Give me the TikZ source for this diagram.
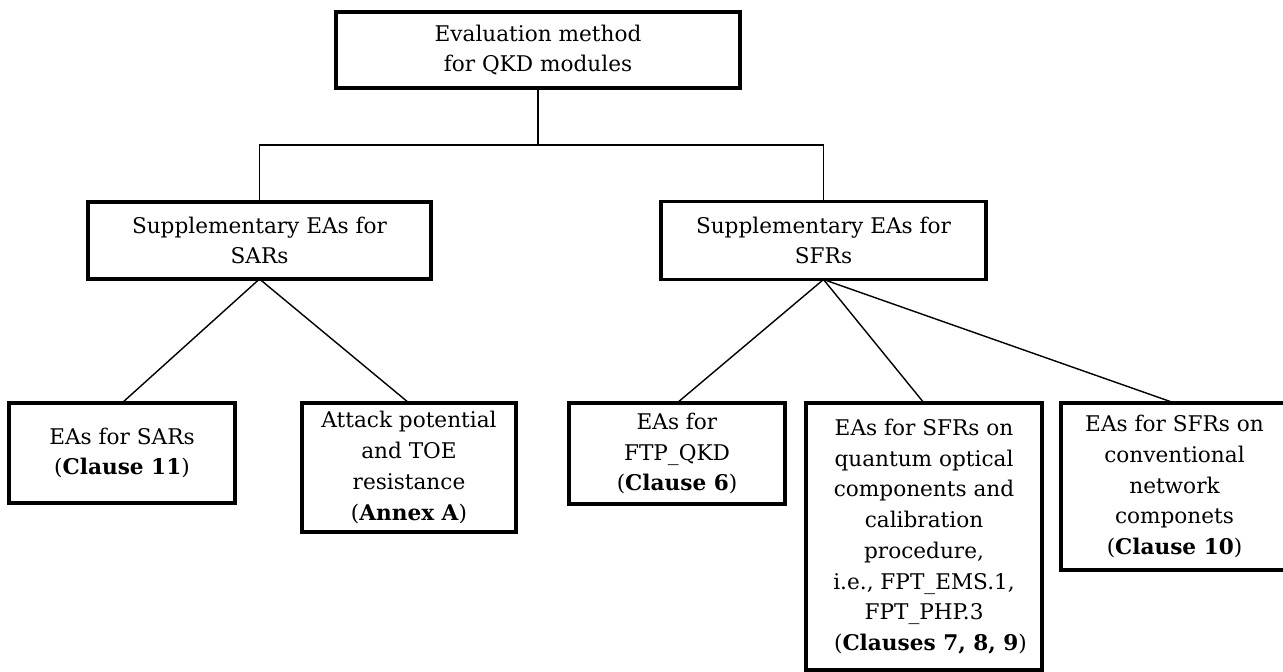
\documentclass[tikz,border=0pt]{standalone}
\usepackage{fontspec}
\setmainfont{DejaVu Serif}
\usetikzlibrary{positioning}

\begin{document}
\begin{tikzpicture}[auto]
  \tikzstyle{block} = [rectangle, draw, line width=2.2pt, align=center,
    font=\fontsize{12.3}{17.5}\selectfont, inner sep=0pt, outer sep=0pt]
  \tikzstyle{link} = [draw, line width=0.8pt]

  \useasboundingbox (0,0) rectangle (25.66,-13.42);

  % Place nodes
  \node [block, minimum width=8.08cm, minimum height=1.52cm] (eval) at (10.76,-1.0)
    {Evaluation method\\for QKD modules};
  \node [block, minimum width=6.86cm, minimum height=1.54cm,
    below=2.28cm of eval, xshift=-5.57cm] (sar) {Supplementary EAs for\\SARs};
  \node [block, minimum width=6.5cm, minimum height=1.56cm,
    right=4.6cm of sar] (sfr) {Supplementary EAs for\\SFRs};

  \node [block, minimum width=4.52cm, minimum height=2cm, anchor=north west]
    (sarea) at ([shift={(-1.58,-2.48)}]sar.south west) {EAs for SARs\\(\textbf{Clause 11})};
  \node [block, minimum width=4.28cm, minimum height=2.58cm, anchor=north west]
    (attack) at ([xshift=1.34cm]sarea.north east)
    {Attack potential\\and TOE\\resistance\\(\textbf{Annex A})};
  \node [block, minimum width=4.32cm, minimum height=2.02cm, anchor=north west]
    (ftp) at ([xshift=1.06cm]attack.north east) {EAs for\\FTP\_QKD\\(\textbf{Clause 6})};
  \node [block, minimum width=4.72cm, minimum height=5.34cm, anchor=north west]
    (optic) at ([xshift=0.42cm]ftp.north east)
    {EAs for SFRs on\\quantum optical\\components and\\calibration\\procedure,\\
     i.e., FPT\_EMS.1,\\FPT\_PHP.3\\\hspace*{0.6em}(\textbf{Clauses 7, 8, 9})};
  \node [block, minimum width=4.54cm, minimum height=3.34cm, anchor=north west]
    (netw) at ([xshift=0.38cm]optic.north east)
    {EAs for SFRs on\\conventional\\network\\componets\hspace*{2.3em}\\
     (\textbf{Clause 10})};

  \coordinate [below=1.14cm of eval.south] (split);

  % Draw edges
  \path [link] (eval.south) -- (split);
  \path [link] (sar.north) |- (split) -| (sfr.north);

  \path [link] (sar.south) -- (sarea.north);
  \path [link] (sar.south) -- (attack.north);

  \path [link] (sfr.south) -- (ftp.north);
  \path [link] (sfr.south) -- (optic.north);
  \path [link] (sfr.south) -- (netw.north);
\end{tikzpicture}
\end{document}
